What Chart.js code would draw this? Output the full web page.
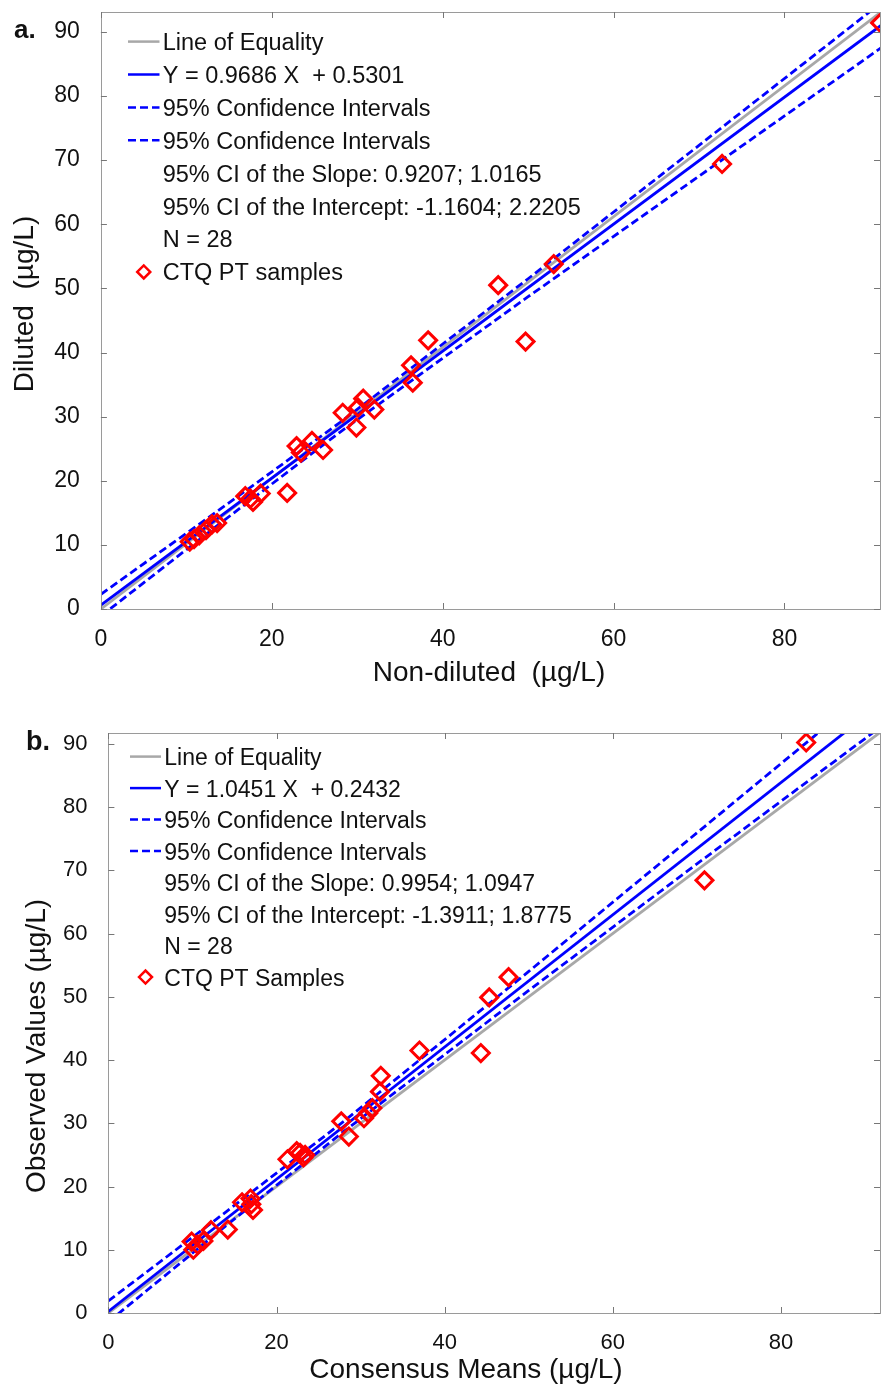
<!DOCTYPE html>
<html>
<head>
<meta charset="utf-8">
<script src="https://cdn.jsdelivr.net/npm/chart.js@4.4.1/dist/chart.umd.min.js"></script>
<style>
  html, body { margin: 0; padding: 0; background: #fff; }
  #wrap { position: relative; width: 881px; height: 1385px; }
  canvas { position: absolute; left: 0; }
</style>
</head>
<body>
<div id="wrap">
  <canvas id="chartA" width="881" height="690" style="top:0px"></canvas>
  <canvas id="chartB" width="881" height="695" style="top:690px"></canvas>
</div>
<script>
// panel a: diluted vs non-diluted
const aSampleX = [10.4, 10.9, 11.5, 12.3, 13.0, 13.6, 16.9, 17.5, 17.8, 18.7, 21.8, 22.9, 23.4, 24.7,
                  26.0, 28.3, 29.9, 30.1, 30.7, 32.0, 36.3, 36.5, 38.3, 46.5, 49.7, 53.0, 72.7, 91.2];
const aSampleY = [10.5, 10.9, 11.5, 12.3, 13.2, 13.4, 17.6, 17.2, 16.7, 18.0, 18.1, 25.4, 24.4, 26.2,
                  24.8, 30.6, 28.3, 31.4, 32.8, 31.1, 38.0, 35.3, 41.9, 50.5, 41.7, 53.8, 69.4, 91.4];
const aEqualX = [0, 91.3];
const aEqualY = [0, 93.1];
const aFitX = [0, 91.3];
const aFitY = [0.6, 91.0];
const aBandX = [0, 14, 28, 50, 70, 91.3];
const aUpperY = [2.3, 15.6, 29.1, 51.5, 72.3, 94.5];
const aLowerY = [-1.1, 13.4, 27.6, 48.7, 67.5, 87.5];
const aXTicks = [0, 20, 40, 60, 80];
const aYTicks = [0, 10, 20, 30, 40, 50, 60, 70, 80, 90];
const aLegend = ['Line of Equality', 'Y = 0.9686 X  + 0.5301', '95% Confidence Intervals',
                 '95% Confidence Intervals', '95% CI of the Slope: 0.9207; 1.0165',
                 '95% CI of the Intercept: -1.1604; 2.2205', 'N = 28', 'CTQ PT samples'];

// panel b: observed values vs consensus means
const bSampleX = [9.9, 10.1, 10.6, 11.3, 12.2, 14.2, 15.9, 16.9, 17.0, 17.2, 21.3, 22.4, 22.8, 23.4,
                  23.2, 27.7, 28.6, 30.4, 30.9, 31.4, 32.3, 32.4, 37.0, 44.3, 45.3, 47.6, 70.9, 83.0];
const bSampleY = [11.3, 10.0, 10.8, 11.4, 13.1, 13.2, 17.5, 18.1, 17.2, 16.3, 24.3, 25.6, 25.3, 25.0,
                  24.6, 30.3, 27.9, 30.8, 31.6, 32.4, 35.0, 37.5, 41.5, 41.1, 49.9, 53.1, 68.4, 90.2];
const bEqualX = [0, 91.9];
const bEqualY = [0, 91.9];
const bFitX = [0, 91.9];
const bFitY = [0.24, 96.3];
const bBandX = [0, 14, 28, 50, 70, 91.9];
const bUpperY = [1.9, 16.0, 30.3, 54.0, 75.9, 99.9];
const bLowerY = [-1.4, 13.8, 28.7, 51.0, 71.0, 92.7];
const bXTicks = [0, 20, 40, 60, 80];
const bYTicks = [0, 10, 20, 30, 40, 50, 60, 70, 80, 90];
const bLegend = ['Line of Equality', 'Y = 1.0451 X  + 0.2432', '95% Confidence Intervals',
                 '95% Confidence Intervals', '95% CI of the Slope: 0.9954; 1.0947',
                 '95% CI of the Intercept: -1.3911; 1.8775', 'N = 28', 'CTQ PT Samples'];

const FONT = '"Liberation Sans", Arial, Helvetica, sans-serif';
const RED = '#ff0000';
const BLUE = '#0000ff';
const GRAY = '#a8a8a8';
const INK = '#111111';
const LW = 2.8;
const DASH = [8, 4];

// legend row -> dataset index (null = text only)
const legendSets = [1, 2, 3, 4, null, null, null, 0];

const pts = (xs, ys) => xs.map((x, i) => ({ x, y: ys[i] }));

function panelPlugin(p) {
  return {
    id: 'panel',
    afterDraw(chart) {
      const { ctx, chartArea: a, scales: { x, y } } = chart;
      ctx.save();

      // frame
      ctx.strokeStyle = '#9a9a9a';
      ctx.lineWidth = 1;
      ctx.setLineDash([]);
      ctx.strokeRect(Math.round(a.left) + 0.5, Math.round(a.top) + 0.5,
                     Math.round(a.right - a.left) - 1, Math.round(a.bottom - a.top));

      // inward tick marks on all four sides
      ctx.strokeStyle = '#777';
      ctx.beginPath();
      x.ticks.forEach(t => {
        const px = Math.round(x.getPixelForValue(t.value)) + 0.5;
        ctx.moveTo(px, a.bottom); ctx.lineTo(px, a.bottom - 6);
        ctx.moveTo(px, a.top); ctx.lineTo(px, a.top + 6);
      });
      y.ticks.forEach(t => {
        const py = Math.round(y.getPixelForValue(t.value)) + 0.5;
        ctx.moveTo(a.left, py); ctx.lineTo(a.left + 6, py);
        ctx.moveTo(a.right - 1, py); ctx.lineTo(a.right - 7, py);
      });
      ctx.stroke();

      // panel letter
      ctx.fillStyle = INK;
      ctx.textBaseline = 'alphabetic';
      ctx.textAlign = 'left';
      ctx.font = `bold ${p.tagSize}px ${FONT}`;
      ctx.fillText(p.tag, p.tagX, p.tagY);

      // axis titles
      ctx.font = `${p.titleSize}px ${FONT}`;
      ctx.textAlign = 'center';
      ctx.fillText(p.xTitle, p.xTitleX, p.xTitleY);
      ctx.save();
      ctx.translate(p.yTitleX, p.yTitleY);
      ctx.rotate(-Math.PI / 2);
      ctx.fillText(p.yTitle, 0, 0);
      ctx.restore();

      // legend
      ctx.font = `${p.legendSize}px ${FONT}`;
      ctx.textAlign = 'left';
      p.legend.forEach((text, i) => {
        const by = p.legendTop + i * p.legendStep;
        const my = by - 8.4;
        const k = legendSets[i];
        if (k !== null) {
          const ds = chart.data.datasets[k];
          if (ds.showLine) {
            ctx.strokeStyle = ds.borderColor;
            ctx.lineWidth = 2.5;
            ctx.setLineDash(ds.borderDash || []);
            ctx.beginPath();
            ctx.moveTo(p.legendX0, my); ctx.lineTo(p.legendX1, my);
            ctx.stroke();
            ctx.setLineDash([]);
          } else {
            const cx = (p.legendX0 + p.legendX1) / 2, r = 6.5;
            ctx.strokeStyle = RED;
            ctx.lineWidth = 2.5;
            ctx.beginPath();
            ctx.moveTo(cx - r, my); ctx.lineTo(cx, my - r);
            ctx.lineTo(cx + r, my); ctx.lineTo(cx, my + r);
            ctx.closePath();
            ctx.stroke();
          }
        }
        ctx.fillStyle = INK;
        ctx.fillText(text, p.textX, by);
      });
      ctx.restore();
    }
  };
}

function build(id, p) {
  const tickFont = { family: FONT, size: p.tickSize, lineHeight: 1.2 };
  return new Chart(document.getElementById(id), {
    type: 'scatter',
    data: {
      datasets: [
        { label: p.legend[7], data: pts(p.sx, p.sy), pointStyle: 'rectRot', pointRadius: 8.5,
          pointBorderWidth: 3, pointBorderColor: RED, pointBackgroundColor: 'rgba(0,0,0,0)',
          borderColor: RED, order: 0 },
        { label: p.legend[0], data: pts(p.eqX, p.eqY), showLine: true, borderColor: GRAY,
          borderWidth: LW, pointRadius: 0, order: 4 },
        { label: p.legend[1], data: pts(p.fitX, p.fitY), showLine: true, borderColor: BLUE,
          borderWidth: LW, pointRadius: 0, order: 1 },
        { label: p.legend[2], data: pts(p.bandX, p.upY), showLine: true, borderColor: BLUE,
          borderWidth: LW, borderDash: DASH, pointRadius: 0, order: 2 },
        { label: p.legend[3], data: pts(p.bandX, p.loY), showLine: true, borderColor: BLUE,
          borderWidth: LW, borderDash: DASH, pointRadius: 0, order: 3 }
      ]
    },
    options: {
      responsive: false,
      animation: false,
      layout: { autoPadding: false, padding: { top: p.padTop, left: 0, right: 0, bottom: 0 } },
      plugins: { legend: { display: false }, tooltip: { enabled: false } },
      scales: {
        x: {
          type: 'linear', min: 0, max: p.xMax,
          afterBuildTicks: s => { s.ticks = p.xTicks.map(v => ({ value: v })); },
          afterFit: s => { s.height = p.xH; s.paddingLeft = 0; s.paddingRight = 0; },
          grid: { display: false, drawTicks: false },
          border: { display: false },
          ticks: { font: tickFont, color: INK, padding: p.xPad, maxRotation: 0 }
        },
        y: {
          type: 'linear', min: 0, max: p.yMax,
          afterBuildTicks: s => { s.ticks = p.yTicks.map(v => ({ value: v })); },
          afterFit: s => { s.width = p.yW; s.paddingTop = 0; s.paddingBottom = 0; },
          grid: { display: false, drawTicks: false },
          border: { display: false },
          ticks: { font: tickFont, color: INK, padding: 21 }
        }
      }
    },
    plugins: [panelPlugin(p)]
  });
}

build('chartA', {
  sx: aSampleX, sy: aSampleY, eqX: aEqualX, eqY: aEqualY, fitX: aFitX, fitY: aFitY,
  bandX: aBandX, upY: aUpperY, loY: aLowerY, xTicks: aXTicks, yTicks: aYTicks, legend: aLegend,
  xMax: 91.3, yMax: 93.1, padTop: 12, xH: 81, yW: 100.9, tickSize: 23, xPad: 17,
  tag: 'a.', tagSize: 26, tagX: 14, tagY: 38,
  titleSize: 28, xTitle: 'Non-diluted  (µg/L)', xTitleX: 489, xTitleY: 681,
  yTitle: 'Diluted  (µg/L)', yTitleX: 33, yTitleY: 304,
  legendSize: 23.5, legendTop: 50, legendStep: 32.9, legendX0: 128, legendX1: 159.5, textX: 162.7
});

build('chartB', {
  sx: bSampleX, sy: bSampleY, eqX: bEqualX, eqY: bEqualY, fitX: bFitX, fitY: bFitY,
  bandX: bBandX, upY: bUpperY, loY: bLowerY, xTicks: bXTicks, yTicks: bYTicks, legend: bLegend,
  xMax: 91.9, yMax: 91.7, padTop: 43, xH: 72, yW: 108.4, tickSize: 22, xPad: 17,
  tag: 'b.', tagSize: 27, tagX: 26, tagY: 60,
  titleSize: 28, xTitle: 'Consensus Means (µg/L)', xTitleX: 466, xTitleY: 688,
  yTitle: 'Observed Values (µg/L)', yTitleX: 45, yTitleY: 356,
  legendSize: 23, legendTop: 75, legendStep: 31.5, legendX0: 130, legendX1: 161, textX: 164.3
});
</script>
</body>
</html>
